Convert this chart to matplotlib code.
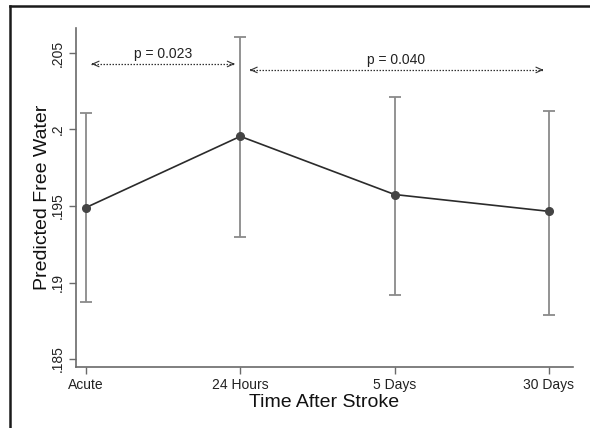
import matplotlib
matplotlib.use("Agg")
import matplotlib.pyplot as plt
from matplotlib.lines import Line2D

plt.rcParams['font.family'] = ['Liberation Sans', 'DejaVu Sans']

# data
timepoints = ['Acute', '24 Hours', '5 Days', '30 Days']
free_water = [0.1949, 0.19955, 0.19575, 0.19465]
ci_low = [0.18875, 0.19300, 0.18920, 0.18785]
ci_high = [0.20110, 0.20605, 0.20215, 0.20120]
y_ticks = [0.185, 0.19, 0.195, 0.2, 0.205]
y_tick_labels = ['.185', '.19', '.195', '.2', '.205']
comparisons = [(0, 1, 'p = 0.023', 0.20428), (1, 3, 'p = 0.040', 0.20389)]

fig = plt.figure(figsize=(5.9, 4.28), dpi=100)
ax = fig.add_axes([0.1288, 0.1425, 0.8424, 0.7921])

x = list(range(len(timepoints)))
err = [[m - lo for m, lo in zip(free_water, ci_low)],
       [hi - m for m, hi in zip(free_water, ci_high)]]

ax.errorbar(x, free_water, yerr=err, fmt='none', ecolor='#8a8a8a',
            elinewidth=1.3, capsize=4, capthick=1.3, zorder=2)
ax.plot(x, free_water, color='#2b2b2b', lw=1.2, zorder=3)
ax.plot(x, free_water, 'o', color='#444444', ms=5.5, zorder=4)

# p-value arrows: dotted shaft, open heads at both ends
for i0, i1, label, yv in comparisons:
    x0 = i0 + (0.035 if i0 == 0 else 0.06)
    x1 = i1 - 0.035
    ax.plot([x0, x1], [yv, yv], color='#333333', lw=0.9, linestyle=(0, (1.2, 1.2)))
    for tip, tail in [(x0, x0 + 0.01), (x1, x1 - 0.01)]:
        ax.annotate('', xy=(tip, yv), xytext=(tail, yv),
                    arrowprops=dict(arrowstyle='->,head_length=0.45,head_width=0.2',
                                    color='#333333', lw=0.8, shrinkA=0, shrinkB=0))
    ax.text((x0 + x1) / 2, yv + 0.0002, label, ha='center', va='bottom',
            fontsize=10, color='#222222')

ax.set_xlim(-0.065, 3.156)
ax.set_ylim(0.18448, 0.20663)
ax.set_xticks(x)
ax.set_xticklabels(timepoints, fontsize=10)
ax.set_yticks(y_ticks)
ax.set_yticklabels(y_tick_labels, fontsize=10, rotation=90, va='center')

for side in ['top', 'right']:
    ax.spines[side].set_visible(False)
for side in ['left', 'bottom']:
    ax.spines[side].set_color('#6a6a6a')
    ax.spines[side].set_linewidth(1.2)
ax.tick_params(direction='out', length=5, width=1, color='#6a6a6a',
               labelcolor='#222222', pad=3)

ax.set_xlabel('Time After Stroke', fontsize=14, color='#111111', labelpad=1)
ax.set_ylabel('Predicted Free Water', fontsize=14, color='#111111', labelpad=0)

# outer frame (left and top edges)
fig.add_artist(Line2D([10 / 590, 10 / 590], [0, 1 - 6 / 428], transform=fig.transFigure,
                      color='#1a1a1a', lw=1.8))
fig.add_artist(Line2D([10 / 590, 1], [1 - 6 / 428, 1 - 6 / 428], transform=fig.transFigure,
                      color='#1a1a1a', lw=1.8))

fig.savefig('out.png', dpi=100, facecolor='white')
